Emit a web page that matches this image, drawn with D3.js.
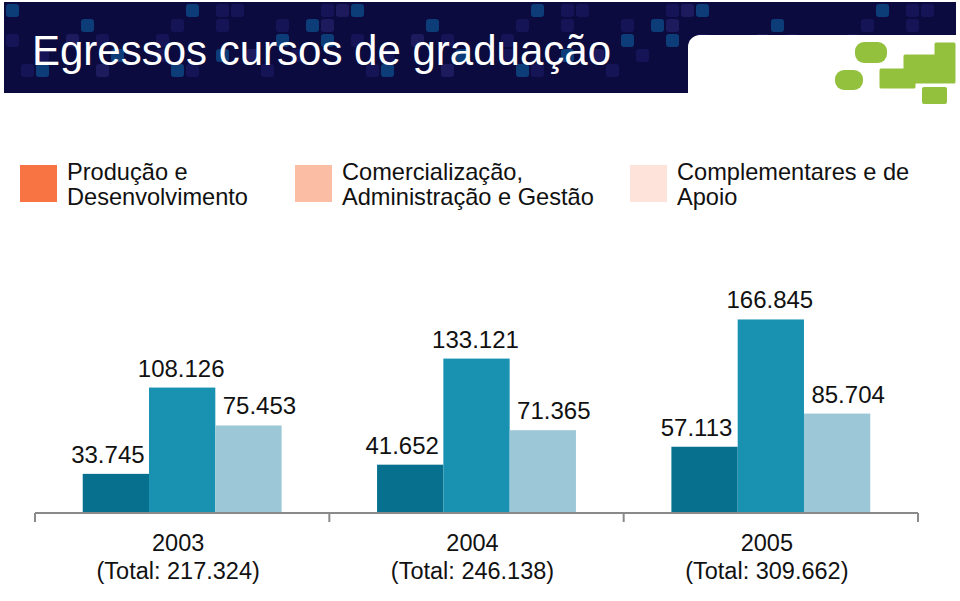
<!DOCTYPE html>
<html>
<head>
<meta charset="utf-8">
<script src="https://cdn.jsdelivr.net/npm/d3@7/dist/d3.min.js"></script>
<style>
  html, body { margin: 0; padding: 0; background: #ffffff; }
  svg { display: block; font-family: "Liberation Sans", Arial, Helvetica, sans-serif; }
</style>
</head>
<body>
<svg id="chart" width="960" height="601"></svg>
<script>
// ---- data ----
const title = "Egressos cursos de graduação";
const years = ["2003", "2004", "2005"];
const totals = [217324, 246138, 309662];
const seriesNames = [
  ["Produção e", "Desenvolvimento"],
  ["Comercialização,", "Administração e Gestão"],
  ["Complementares e de", "Apoio"]
];
const prodDesenv = [33745, 41652, 57113];
const comercAdm = [108126, 133121, 166845];
const complApoio = [75453, 71365, 85704];
const seriesValues = [prodDesenv, comercAdm, complApoio];

// ---- styles ----
const barColors = ["#07708f", "#1992b1", "#9bc7d7"];
const legendColors = ["#f97443", "#fbbea5", "#fde3da"];
const labelDx = [-8, -1, 11];

const svg = d3.select("#chart");
const fmt = d3.formatLocale({decimal: ",", thousands: ".", grouping: [3], currency: ["", ""]}).format(",d");

// ---- header band ----
const header = svg.append("g");
header.append("rect").attr("x", 4).attr("y", 2).attr("width", 952).attr("height", 91).attr("fill", "#0b0b40");
// decorative tile grid
const tileSize = 13, tileGap = 2;
for (let c = 0; c < 64; c++) {
  for (let r = 0; r < 6; r++) {
    const h = (c * 37 + r * 59 + c * r * 11) % 23;
    let col = null;
    if (h === 0 || h === 7) col = "#0d4682";
    else if (h === 3 || h === 12 || h === 18) col = "#16165a";
    else if (h === 9) col = "#221d64";
    if (col) {
      header.append("rect")
        .attr("x", 6 + c * (tileSize + tileGap)).attr("y", 4 + r * (tileSize + tileGap))
        .attr("width", tileSize).attr("height", tileSize).attr("rx", 3)
        .attr("fill", col).attr("opacity", 0.85);
    }
  }
}
header.append("rect").attr("x", 688).attr("y", 35).attr("width", 300).attr("height", 90).attr("rx", 12).attr("fill", "#ffffff");
header.append("rect").attr("x", 0).attr("y", 93).attr("width", 960).attr("height", 40).attr("fill", "#ffffff");
header.append("text").attr("x", 32).attr("y", 65)
  .attr("font-size", 42).attr("fill", "#ffffff").text(title);

// logo
const green = "#93c13e";
const logo = svg.append("g").attr("fill", green);
logo.append("rect").attr("x", 855).attr("y", 42).attr("width", 32).attr("height", 21).attr("rx", 9);
logo.append("rect").attr("x", 835).attr("y", 70).attr("width", 28).attr("height", 20).attr("rx", 9);
logo.append("path")
  .attr("d", "M881,70 L905,70 L905,56 L936,56 L936,44 L954,44 L954,82 L914,82 L914,87 L881,87 Z")
  .attr("stroke", green).attr("stroke-width", 3).attr("stroke-linejoin", "round");
logo.append("rect").attr("x", 922).attr("y", 87).attr("width", 25).attr("height", 17).attr("rx", 2);

// ---- legend ----
const legendX = [20, 295, 630];
const legend = svg.append("g");
seriesNames.forEach((lines, i) => {
  const g = legend.append("g").attr("transform", `translate(${legendX[i]},0)`);
  g.append("rect").attr("x", 0).attr("y", 165).attr("width", 37).attr("height", 37).attr("fill", legendColors[i]);
  lines.forEach((ln, j) => {
    g.append("text").attr("x", 47).attr("y", 180 + j * 25)
      .attr("font-size", 23.6).attr("fill", "#111").text(ln);
  });
});

// ---- chart ----
const x0 = d3.scaleBand().domain(years).range([35, 918]).paddingInner(0).paddingOuter(0);
const x1 = d3.scaleBand().domain(d3.range(3)).range([0, x0.bandwidth()]).paddingInner(0).paddingOuter(0.72);
const y = d3.scaleLinear().domain([0, 200000]).range([513, 281]);

const groups = svg.append("g").selectAll("g").data(years).join("g")
  .attr("transform", d => `translate(${x0(d)},0)`);

groups.each(function(yr, gi) {
  const g = d3.select(this);
  seriesValues.forEach((vals, si) => {
    const v = vals[gi];
    g.append("rect")
      .attr("x", x1(si)).attr("y", y(v))
      .attr("width", x1.bandwidth()).attr("height", y(0) - y(v))
      .attr("fill", barColors[si]);
    g.append("text")
      .attr("x", x1(si) + x1.bandwidth() / 2 + labelDx[si]).attr("y", y(v) - 11)
      .attr("text-anchor", "middle").attr("font-size", 24).attr("fill", "#111")
      .text(fmt(v));
  });
});

// axis
const axis = svg.append("g").attr("stroke", "#8a8a8a").attr("stroke-width", 2);
axis.append("line").attr("x1", x0.range()[0]).attr("x2", x0.range()[1]).attr("y1", 513).attr("y2", 513);
const edges = years.map(d => x0(d)).concat([x0.range()[1]]);
axis.selectAll("line.tick").data(edges).join("line").attr("class", "tick")
  .attr("x1", d => d).attr("x2", d => d).attr("y1", 513).attr("y2", 522);

const labels = svg.append("g").selectAll("g").data(years).join("g")
  .attr("transform", d => `translate(${x0(d) + x0.bandwidth() / 2 - 4},0)`);
labels.append("text").attr("y", 551).attr("text-anchor", "middle").attr("font-size", 23.5).attr("fill", "#111").text(d => d);
labels.append("text").attr("y", 579).attr("text-anchor", "middle").attr("font-size", 23.5).attr("fill", "#111")
  .text((d, i) => `(Total: ${fmt(totals[i])})`);
</script>
</body>
</html>
